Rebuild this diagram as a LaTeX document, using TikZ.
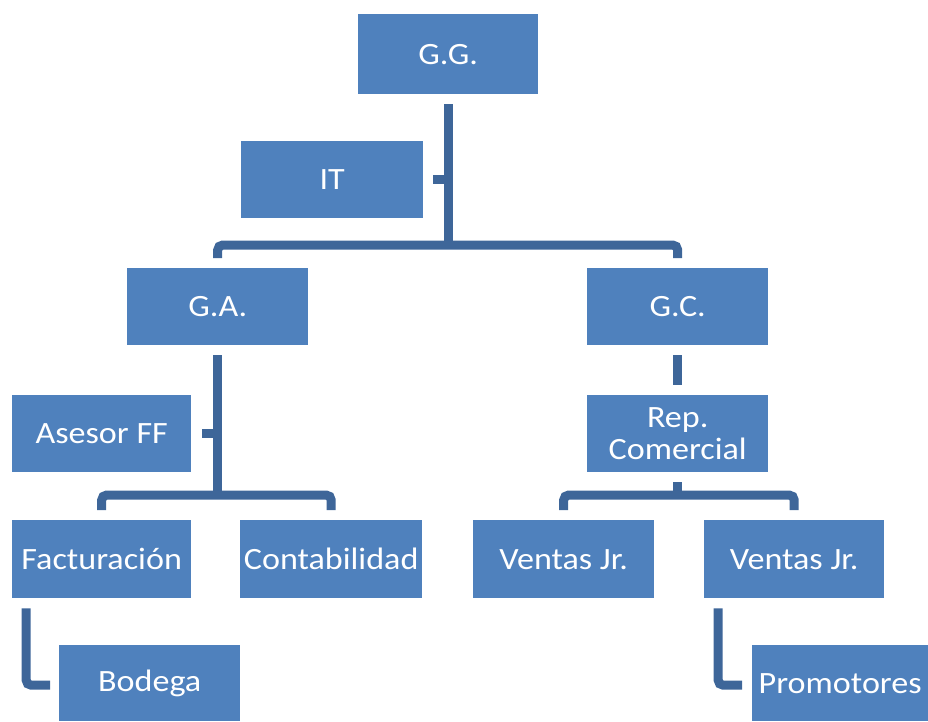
\documentclass[tikz,border=0pt]{standalone}
\usepackage{fontspec}
\setmainfont[FakeStretch=1.1]{Carlito}
\definecolor{boxblue}{HTML}{4F81BD}
\definecolor{lineblue}{HTML}{3E6699}
\begin{document}
\begin{tikzpicture}[x=1pt,y=-1pt,
  orgbox/.style={fill=boxblue,draw=none,anchor=north west,inner sep=0pt,
     text=white,align=center,font=\fontsize{31}{34}\selectfont},
  conn/.style={draw=lineblue,line width=9pt,rounded corners=5pt}]
\useasboundingbox (0,0) rectangle (928,721);
\node[orgbox,minimum width=180pt,minimum height=80pt] (gg) at (358,14) {G.G.};
\node[orgbox,minimum width=182pt,minimum height=77pt] (it) at (241,141) {IT};
\node[orgbox,minimum width=181pt,minimum height=77pt] (ga) at (127,268) {G.A.};
\node[orgbox,minimum width=181pt,minimum height=77pt] (gc) at (587,268) {G.C.};
\node[orgbox,minimum width=179pt,minimum height=77pt] (as) at (12,395) {Asesor FF};
\node[orgbox,minimum width=181pt,minimum height=77pt] (rep) at (587,395) {Rep.\\[-2pt]Comercial};
\node[orgbox,minimum width=179pt,minimum height=78pt] (fac) at (12,520) {Facturación};
\node[orgbox,minimum width=182pt,minimum height=78pt] (con) at (240,520) {Contabilidad};
\node[orgbox,minimum width=181pt,minimum height=78pt] (v1) at (473,520) {Ventas Jr.};
\node[orgbox,minimum width=180pt,minimum height=78pt] (v2) at (704,520) {Ventas Jr.};
\node[orgbox,minimum width=181pt,minimum height=76pt] (bod) at (59,645) {\raisebox{-4pt}{Bodega}};
\node[orgbox,minimum width=176pt,minimum height=76pt] (pro) at (752,645) {\raisebox{-4pt}{Promotores}};
% G.G. level
\coordinate (bar1) at ([yshift=23pt]ga.north);
\draw[conn] ([yshift=10pt]ga.north) -- (bar1) -- ([yshift=23pt]gc.north) -- ([yshift=10pt]gc.north);
\draw[conn,rounded corners=0pt] ([yshift=-10pt]gg.south) -- (gg.south |- bar1);
\draw[conn,rounded corners=0pt] ([xshift=10pt]it.east) -- (it.east -| gg.south);
% G.A. level
\coordinate (bar2) at ([yshift=25pt]fac.north);
\draw[conn] ([yshift=10pt]fac.north) -- (bar2) -- ([yshift=25pt]con.north) -- ([yshift=10pt]con.north);
\draw[conn,rounded corners=0pt] ([yshift=-10pt]ga.south) -- (ga.south |- bar2);
\draw[conn,rounded corners=0pt] ([xshift=11pt]as.east) -- (as.east -| ga.south);
% G.C. level
\draw[conn,rounded corners=0pt] ([yshift=-10pt]gc.south) -- ([yshift=10pt]rep.north);
\coordinate (bar3) at ([yshift=25pt]v1.north);
\draw[conn] ([yshift=10pt]v1.north) -- (bar3) -- ([yshift=25pt]v2.north) -- ([yshift=10pt]v2.north);
\draw[conn,rounded corners=0pt] ([yshift=-10pt]rep.south) -- (rep.south |- bar3);
% bottom
\coordinate (bk1) at ([xshift=-75.5pt,yshift=-10pt]fac.south);
\draw[conn] (bk1) |- ([xshift=-9pt,yshift=-2pt]bod.west);
\coordinate (bk2) at ([xshift=-76pt,yshift=-10pt]v2.south);
\draw[conn] (bk2) |- ([xshift=-10pt,yshift=-2pt]pro.west);
\end{tikzpicture}
\end{document}
